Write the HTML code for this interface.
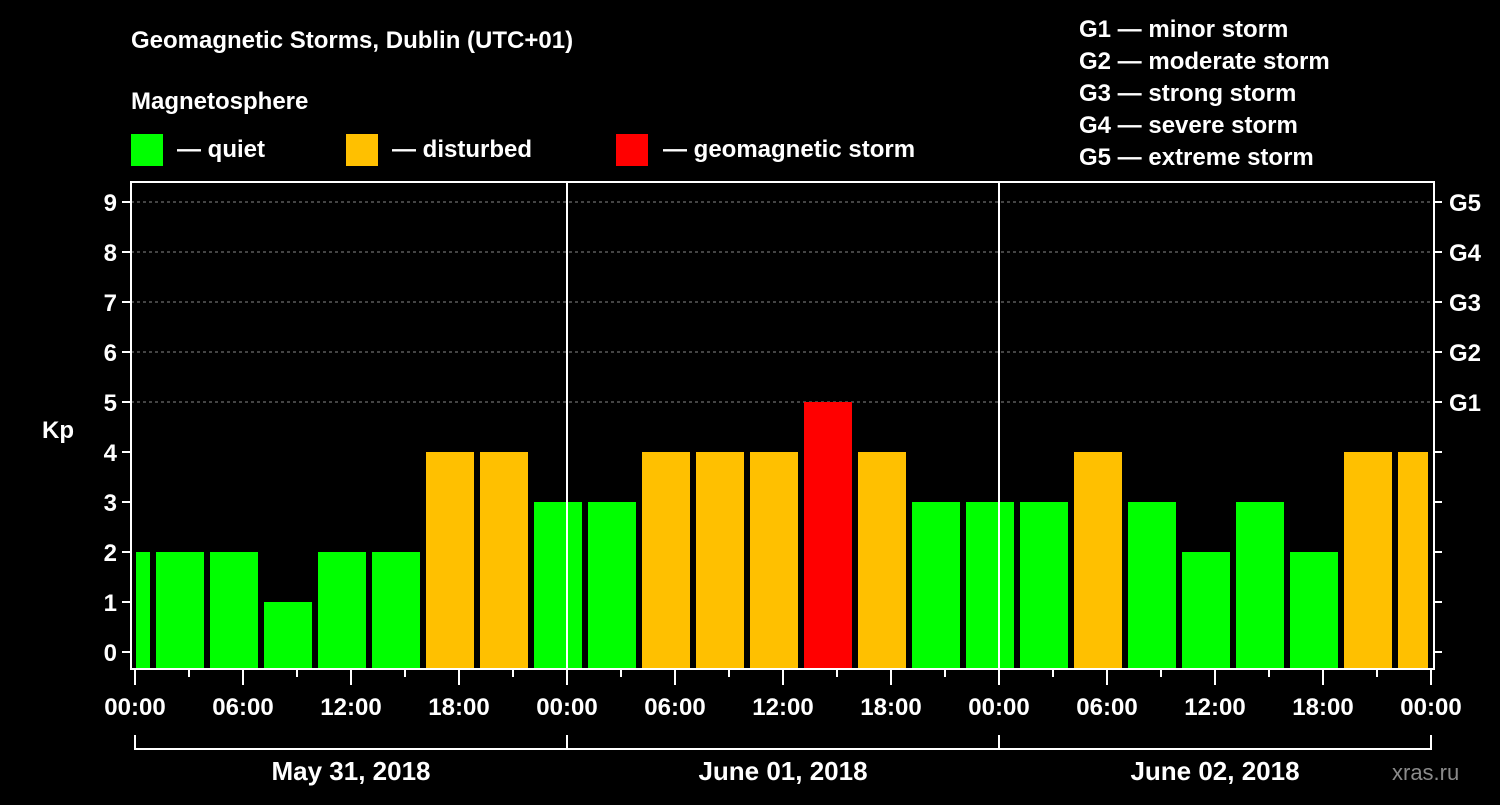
<!DOCTYPE html>
<html><head><meta charset="utf-8"><style>
body{margin:0;background:#000;width:1500px;height:800px;overflow:hidden}
svg text{font-family:"Liberation Sans",Arial,sans-serif;font-weight:bold;fill:#fff}
</style></head><body>
<svg id="c" width="1500" height="800" xmlns="http://www.w3.org/2000/svg">
<text x="131" y="48" font-size="24">Geomagnetic Storms, Dublin (UTC+01)</text>
<text x="131" y="109" font-size="24">Magnetosphere</text>
<g><rect x="131" y="134" width="32" height="32" fill="#00ff00"/><text x="177" y="157" font-size="24">— quiet</text></g>
<g><rect x="346" y="134" width="32" height="32" fill="#ffc000"/><text x="392" y="157" font-size="24">— disturbed</text></g>
<g><rect x="616" y="134" width="32" height="32" fill="#ff0000"/><text x="663" y="157" font-size="24">— geomagnetic storm</text></g>
<g font-size="24">
<text x="1079" y="37">G1 — minor storm</text>
<text x="1079" y="69">G2 — moderate storm</text>
<text x="1079" y="101">G3 — strong storm</text>
<text x="1079" y="133">G4 — severe storm</text>
<text x="1079" y="165">G5 — extreme storm</text>
</g>
<text x="42" y="438" font-size="24">Kp</text>
<text x="1392" y="780" font-size="22" fill="#888" style="fill:#8a8a8a;font-weight:normal">xras.ru</text>
<g id="plot"></g>
</svg>
<script>
const kpValues=[2,2,2,1,2,2,4,4,3,3,4,4,4,5,4,3,3,3,4,3,2,3,2,4,4];
const periodStartHours=[-2,1,4,7,10,13,16,19,22,25,28,31,34,37,40,43,46,49,52,55,58,61,64,67,70];
const yTicks=[0,1,2,3,4,5,6,7,8,9];
const gLabels=["G1","G2","G3","G4","G5"];
const xTickLabels=["00:00","06:00","12:00","18:00","00:00","06:00","12:00","18:00","00:00","06:00","12:00","18:00","00:00"];
const dayLabels=["May 31, 2018","June 01, 2018","June 02, 2018"];
const NS="http://www.w3.org/2000/svg";
const X0=135,PXH=18,Y0=652,PXK=50,TOP=182,BOT=669,LEFT=131,RIGHT=1434,XEND=1431;
const xs=h=>X0+h*PXH, ys=k=>Y0-k*PXK;
const g=document.getElementById('plot');
function mk(t,a,p){const e=document.createElementNS(NS,t);for(const k in a)e.setAttribute(k,a[k]);(p||g).appendChild(e);return e;}
// grid
for(let k=5;k<=9;k++){const l=mk('line',{x1:LEFT,x2:RIGHT,y1:ys(k),y2:ys(k),stroke:'#888','stroke-dasharray':'3,3','stroke-width':1});

}
// bars
kpValues.forEach((v,i)=>{let x1=xs(periodStartHours[i])+3,x2=xs(periodStartHours[i]+3)-3;x1=Math.max(x1,136);x2=Math.min(x2,1428);
const col=v>=5?'#ff0000':(v>=4?'#ffc000':'#00ff00');
const r=mk('rect',{x:x1,y:ys(v),width:x2-x1,height:BOT-1-ys(v),fill:col});

});
// axes box
mk('rect',{x:LEFT,y:TOP,width:RIGHT-LEFT,height:BOT-TOP,fill:'none',stroke:'#fff','stroke-width':2});
[1,2].forEach(d=>{const l=mk('line',{x1:xs(24*d),x2:xs(24*d),y1:TOP,y2:BOT,stroke:'#fff','stroke-width':2});

});
// y ticks
yTicks.forEach(k=>{mk('line',{x1:LEFT-9,x2:LEFT,y1:ys(k),y2:ys(k),stroke:'#fff','stroke-width':2});
mk('line',{x1:RIGHT,x2:RIGHT+8,y1:ys(k),y2:ys(k),stroke:'#fff','stroke-width':2});
const t=mk('text',{x:LEFT-14,y:ys(k)+9,'text-anchor':'end','font-size':24});t.textContent=k;

});
gLabels.forEach((s,i)=>{const t=mk('text',{x:1449,y:ys(5+i)+9,'font-size':24});t.textContent=s;

});
// x ticks
for(let h=0;h<=72;h+=3){const maj=h%6===0;mk('line',{x1:xs(h),x2:xs(h),y1:BOT,y2:BOT+(maj?16:8),stroke:'#fff','stroke-width':2});}
xTickLabels.forEach((s,i)=>{const t=mk('text',{x:xs(i*6),y:715,'text-anchor':'middle','font-size':24});t.textContent=s;

});
mk('path',{d:`M${xs(0)},735V749H${xs(72)}V735`,fill:'none',stroke:'#fff','stroke-width':2});
[1,2].forEach(d=>mk('line',{x1:xs(24*d),x2:xs(24*d),y1:735,y2:749,stroke:'#fff','stroke-width':2}));
dayLabels.forEach((s,i)=>{const t=mk('text',{x:xs(24*i+12),y:780,'text-anchor':'middle','font-size':26});t.textContent=s;

});
</script>
</body></html>
